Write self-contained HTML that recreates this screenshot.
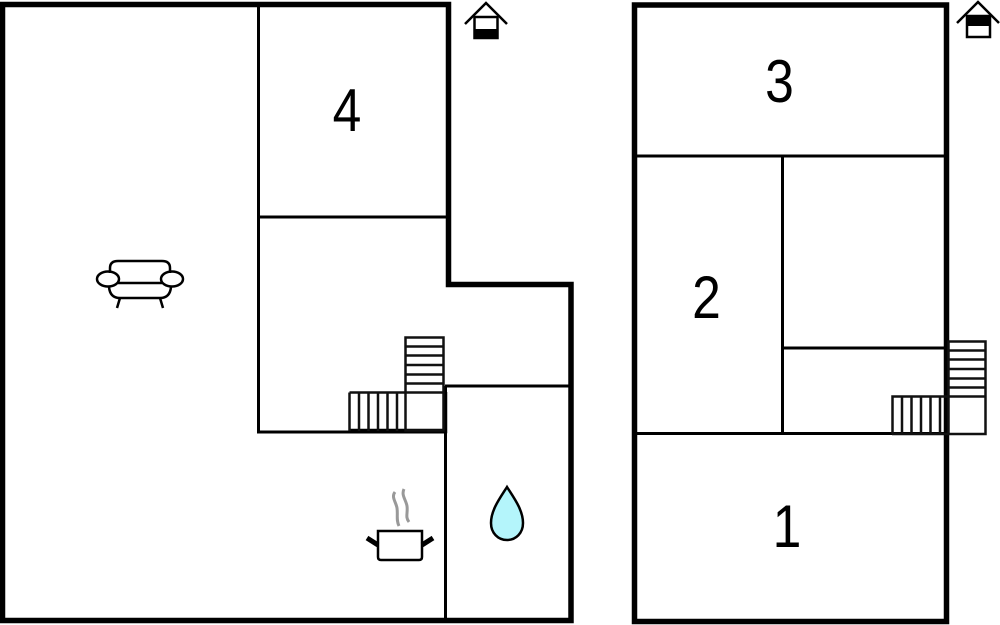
<!DOCTYPE html>
<html>
<head>
<meta charset="utf-8">
<style>
html,body{margin:0;padding:0;background:#fff;}
svg{display:block;}
text{font-family:"Liberation Sans",sans-serif;font-size:60px;fill:#000;text-anchor:middle;}
</style>
</head>
<body>
<svg width="1000" height="625" viewBox="0 0 1000 625" xmlns="http://www.w3.org/2000/svg" fill="none" stroke="#000">
<!-- Left plan -->
<path d="M2.500 4.500H448.500V284.500H571V620.500H2.500Z" stroke-width="5.500"/>
<g stroke-width="3">
<path d="M258.500 5V432H445"/>
<path d="M258 217H447"/>
<path d="M445.500 386V621"/>
<path d="M445 386H570"/>
</g>
<path d="M349 431H445V392" stroke-width="4.500"/>
<!-- Left stairs -->
<g stroke-width="2.500" stroke="#111">
<rect x="405.500" y="337.500" width="38" height="93"/>
<path d="M405 346.500H443M405 355.500H443M405 365H443M405 374.500H443M405 383.500H443M405 392.500H443"/>
<path d="M349.500 392.500H405M349.500 392.500V431M359 392.500V431M368.500 392.500V431M378 392.500V431M387.500 392.500V431M397 392.500V431"/>
</g>
<!-- Right plan -->
<rect x="634.500" y="5" width="312" height="616.500" stroke-width="5.500"/>
<g stroke-width="3">
<path d="M636 156H945"/>
<path d="M636 433.500H945"/>
<path d="M782.500 156V433"/>
<path d="M782 348H945"/>
</g>
<!-- Right stairs -->
<g stroke-width="2.500" stroke="#111">
<rect x="948.500" y="341.500" width="37" height="92.500"/>
<path d="M948 350.500H986M948 359.500H986M948 369H986M948 378.500H986M948 387.500H986M948 396.500H986"/>
<path d="M948 396.500H892.500V434M902 396.500V434M911.500 396.500V434M921 396.500V434M930.500 396.500V434M940 396.500V434M892 434H948"/>
</g>
<!-- Numbers -->
<g stroke="none">
<text transform="translate(347 131) scale(.86 1)">4</text>
<text transform="translate(779.500 102) scale(.86 1)">3</text>
<text transform="translate(706.500 318) scale(.86 1)">2</text>
<text transform="translate(787 547) scale(.86 1)">1</text>
</g>
<!-- Sofa -->
<g stroke-width="2.500" fill="none">
<path d="M110 273V268Q110 261 118 261H162Q170 261 170 268V273"/>
<path d="M118 283H162"/>
<path d="M109 287Q110 298 120 298H160Q170 298 171 287"/>
<path d="M120 298L117 308M160 298L163 308"/>
<ellipse cx="108" cy="279" rx="11" ry="7.500"/>
<ellipse cx="172" cy="279" rx="11" ry="7.500"/>
</g>
<!-- Pot -->
<path d="M395 492C391 497 396 502 397 508C398 515 396 520 399 526M404 489C401 495 406 500 407 506C408 513 405 517 409 522" stroke="#999" stroke-width="3"/>
<path d="M378 531H422V557Q422 560 419 560H381Q378 560 378 557Z" stroke-width="2.500"/>
<path d="M367 538L378 545M433 538L422 545" stroke-width="5"/>
<!-- Drop -->
<path d="M507 487C500 498 491 510 491 523C491 533 498 540 507 540C516 540 523 533 523 523C523 510 514 498 507 487Z" fill="#b4f5fb" stroke-width="2.500"/>
<!-- House icons -->
<g stroke-width="2.500">
<path d="M465 24L486 3L507 24"/>
<rect x="474.500" y="17" width="23" height="21"/>
<path d="M957 23L978 2L999 23"/>
<rect x="967" y="16" width="23" height="21"/>
</g>
<rect x="474" y="29" width="24" height="10" fill="#000" stroke="none"/>
<rect x="967" y="15" width="23" height="11" fill="#000" stroke="none"/>
</svg>
</body>
</html>
